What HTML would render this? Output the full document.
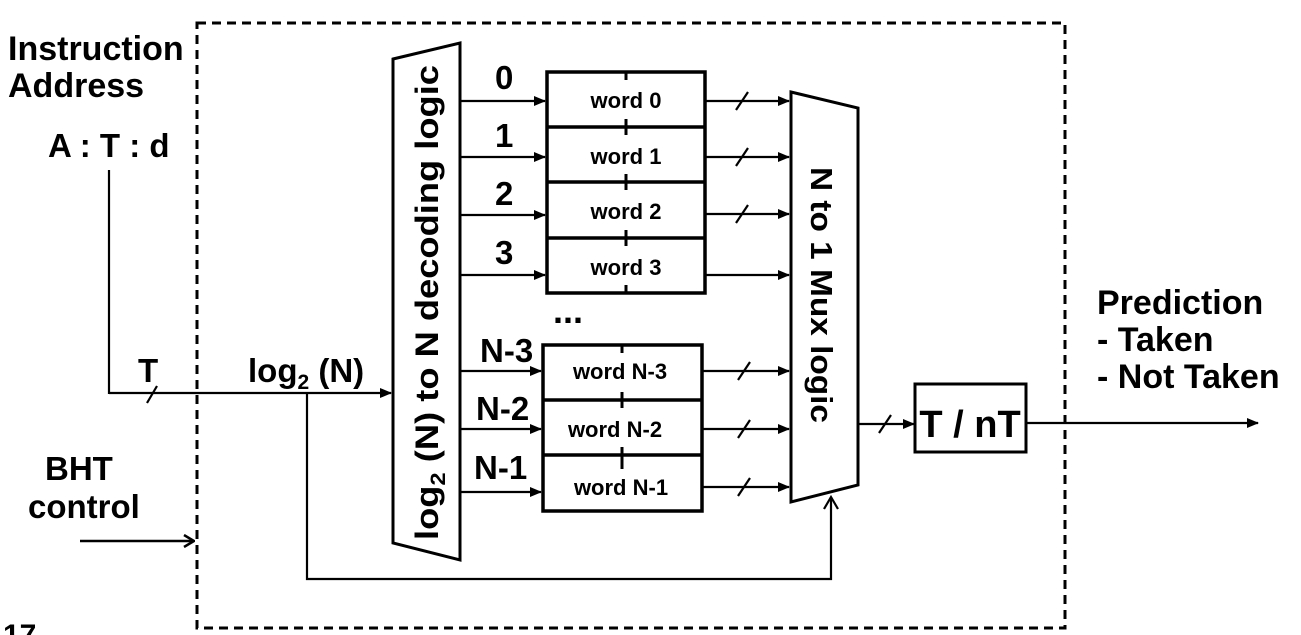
<!DOCTYPE html>
<html><head><meta charset="utf-8"><style>
html,body{margin:0;padding:0;background:#fff;}
svg{display:block;}
text{font-family:"Liberation Sans",Arial,sans-serif;font-weight:bold;fill:#000;}
</style></head><body>
<svg width="1301" height="635" viewBox="0 0 1301 635" xmlns="http://www.w3.org/2000/svg">
<defs>
<marker id="a" markerWidth="12" markerHeight="10" refX="11" refY="5" orient="auto" markerUnits="userSpaceOnUse">
<path d="M0,0 L12,5 L0,10 z" fill="#000"/></marker>
<marker id="o" markerWidth="12" markerHeight="14" refX="11" refY="7" orient="auto" markerUnits="userSpaceOnUse">
<path d="M1,1 L11,7 L1,13" fill="none" stroke="#000" stroke-width="2.5"/></marker>
</defs>
<g fill="none" stroke="#000">
<rect x="197" y="23" width="868" height="605" stroke-width="3" stroke-dasharray="9,6"/>
<polygon points="393,59 460,43 460,560 393,543" stroke-width="3" fill="#fff"/>
<polygon points="791,92 858,108 858,485 791,502" stroke-width="3" fill="#fff"/>
<rect x="547" y="72" width="158" height="221" stroke-width="3.5"/>
<line x1="547" y1="127" x2="705" y2="127" stroke-width="3.5"/>
<line x1="547" y1="182" x2="705" y2="182" stroke-width="3.5"/>
<line x1="547" y1="238" x2="705" y2="238" stroke-width="3.5"/>
<g stroke-width="3">
<line x1="626" y1="72" x2="626" y2="80"/><line x1="626" y1="119" x2="626" y2="135"/>
<line x1="626" y1="174" x2="626" y2="190"/><line x1="626" y1="230" x2="626" y2="246"/>
<line x1="626" y1="285" x2="626" y2="293"/>
</g>
<rect x="543" y="345" width="159" height="166" stroke-width="3.5"/>
<line x1="543" y1="400" x2="702" y2="400" stroke-width="3.5"/>
<line x1="543" y1="455" x2="702" y2="455" stroke-width="3.5"/>
<g stroke-width="3">
<line x1="622" y1="345" x2="622" y2="353"/><line x1="622" y1="392" x2="622" y2="408"/>
<line x1="622" y1="447" x2="622" y2="469"/>
</g>
<g stroke-width="2.2" marker-end="url(#a)">
<line x1="460" y1="101" x2="545" y2="101"/>
<line x1="460" y1="157" x2="545" y2="157"/>
<line x1="460" y1="215" x2="545" y2="215"/>
<line x1="460" y1="275" x2="545" y2="275"/>
<line x1="460" y1="371" x2="541" y2="371"/>
<line x1="460" y1="429" x2="541" y2="429"/>
<line x1="460" y1="492" x2="541" y2="492"/>
<line x1="706" y1="101" x2="789" y2="101"/>
<line x1="706" y1="157" x2="789" y2="157"/>
<line x1="706" y1="214" x2="789" y2="214"/>
<line x1="706" y1="275" x2="789" y2="275"/>
<line x1="703" y1="371" x2="789" y2="371"/>
<line x1="703" y1="429" x2="789" y2="429"/>
<line x1="703" y1="487" x2="789" y2="487"/>
<line x1="858" y1="424" x2="914" y2="424"/>
<line x1="1026" y1="423" x2="1258" y2="423"/>
<line x1="109" y1="393" x2="391" y2="393"/>
</g>
<g stroke-width="2.2">
<line x1="736" y1="110" x2="748" y2="92"/>
<line x1="736" y1="166" x2="748" y2="148"/>
<line x1="736" y1="223" x2="748" y2="205"/>
<line x1="738" y1="380" x2="750" y2="362"/>
<line x1="738" y1="438" x2="750" y2="420"/>
<line x1="738" y1="496" x2="750" y2="478"/>
<line x1="879" y1="433" x2="891" y2="415"/>
<line x1="147" y1="403" x2="157" y2="386"/>
</g>
<rect x="915" y="384" width="111" height="68" stroke-width="3"/>
<line x1="109" y1="170" x2="109" y2="394" stroke-width="2.2"/>
<polyline points="307,393 307,579 831,579 831,497" stroke-width="2.2"/>
<path d="M824,509 L831,497 L838,509" stroke-width="2.2"/>
<line x1="80" y1="541" x2="194" y2="541" stroke-width="2.5" marker-end="url(#o)"/>
</g>
<text x="8" y="60" font-size="34">Instruction</text>
<text x="8" y="97" font-size="34">Address</text>
<text x="48" y="157" font-size="33">A : T : d</text>
<text x="138" y="382" font-size="33">T</text>
<text x="248" y="382" font-size="33">log<tspan font-size="21" dy="7">2</tspan><tspan dy="-7"> (N)</tspan></text>
<text x="45" y="480" font-size="33">BHT</text>
<text x="28" y="518" font-size="33">control</text>
<text x="3" y="645" font-size="30" font-family="Liberation Serif">17</text>
<text x="1097" y="314" font-size="34">Prediction</text>
<text x="1097" y="351" font-size="34">- Taken</text>
<text x="1097" y="388" font-size="34">- Not Taken</text>
<text x="970" y="437" font-size="38" text-anchor="middle">T / nT</text>
<text x="495" y="89" font-size="33">0</text>
<text x="495" y="147" font-size="33">1</text>
<text x="495" y="205" font-size="33">2</text>
<text x="495" y="264" font-size="33">3</text>
<text x="480" y="362" font-size="33">N-3</text>
<text x="476" y="420" font-size="33">N-2</text>
<text x="474" y="479" font-size="33">N-1</text>
<text x="553" y="323" font-size="36">...</text>
<g font-size="22" text-anchor="middle">
<text x="626" y="108">word 0</text>
<text x="626" y="164">word 1</text>
<text x="626" y="219">word 2</text>
<text x="626" y="275">word 3</text>
<text x="620" y="379">word N-3</text>
<text x="615" y="437">word N-2</text>
<text x="621" y="495">word N-1</text>
</g>
<text transform="translate(438,540) rotate(-90)" font-size="32" textLength="475" lengthAdjust="spacingAndGlyphs">log<tspan font-size="21" dy="7">2</tspan><tspan dy="-7"> (N) to N decoding logic</tspan></text>
<text transform="translate(811,167) rotate(90)" font-size="31" textLength="256" lengthAdjust="spacingAndGlyphs">N to 1 Mux logic</text>
</svg>
</body></html>
